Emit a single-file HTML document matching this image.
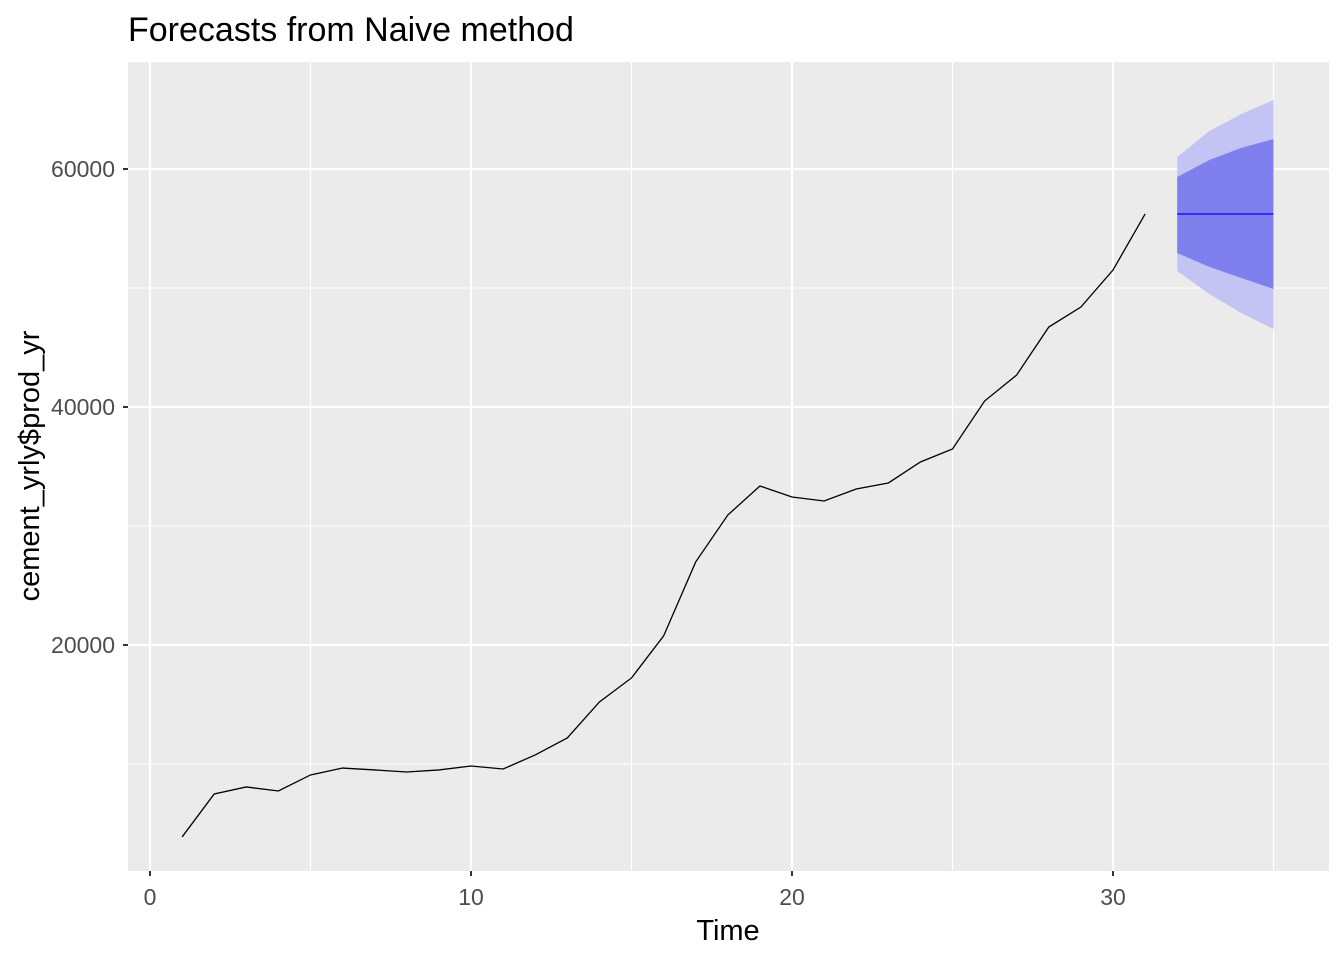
<!DOCTYPE html>
<html><head><meta charset="utf-8"><style>
body{margin:0;background:#fff;font-family:"Liberation Sans",sans-serif}
</style></head><body>
<svg id="chart" width="1344" height="960" xmlns="http://www.w3.org/2000/svg" font-family="Liberation Sans, sans-serif">
<text x="128" y="41" font-size="34" fill="#000">Forecasts from Naive method</text>
<rect x="128" y="62" width="1201" height="809" fill="#ebebeb"/>
<g id="grid"></g>
<g id="marks"></g>
<g id="axes"></g>
<text x="728" y="940" font-size="29" text-anchor="middle" fill="#000">Time</text>
<text transform="translate(39,466) rotate(-90)" font-size="29" text-anchor="middle" fill="#000">cement_yrly$prod_yr</text>
</svg>
<script>
const times=[1,2,3,4,5,6,7,8,9,10,11,12,13,14,15,16,17,18,19,20,21,22,23,24,25,26,27,28,29,30,31];
const values=[3870,7480,8070,7730,9080,9660,9500,9330,9500,9830,9580,10760,12190,15210,17230,20760,26980,30920,33360,32440,32100,33110,33610,35380,36470,40500,42690,46720,48400,51510,56220];
const fcTimes=[32,33,34,35];
const fcMean=[56220,56220,56220,56220];
const lo80=[52940,51770,50840,49920];
const hi80=[59330,60760,61770,62520];
const lo95=[51430,49500,47900,46560];
const hi95=[61010,63190,64620,65800];
const xTicks=[0,10,20,30];
const xMinor=[5,15,25,35];
const yTicks=[20000,40000,60000];
const yMinor=[10000,30000,50000];
const NS="http://www.w3.org/2000/svg";
const X=t=>150+t*32.1;
const Y=v=>645-(v-20000)*0.0119;
function mk(tag,attrs,parent){const e=document.createElementNS(NS,tag);for(const k in attrs)e.setAttribute(k,attrs[k]);document.getElementById(parent).appendChild(e);return e;}
yMinor.forEach(v=>{const l=mk('line',{x1:128,x2:1329,y1:Y(v),y2:Y(v),stroke:'#fff','stroke-width':1.1},'grid');

});
xMinor.forEach(t=>{const l=mk('line',{x1:X(t),x2:X(t),y1:62,y2:871,stroke:'#fff','stroke-width':1.1},'grid');

});
yTicks.forEach(v=>{const l=mk('line',{x1:128,x2:1329,y1:Y(v),y2:Y(v),stroke:'#fff','stroke-width':2.2},'grid');


const tk=mk('line',{x1:123,x2:128,y1:Y(v),y2:Y(v),stroke:'#333','stroke-width':2},'axes');


const tx=mk('text',{x:115,y:Y(v)+8,'font-size':23,'text-anchor':'end',fill:'#4d4d4d'},'axes');tx.textContent=v;

});
xTicks.forEach(t=>{const l=mk('line',{x1:X(t),x2:X(t),y1:62,y2:871,stroke:'#fff','stroke-width':2.2},'grid');


const tk=mk('line',{x1:X(t),x2:X(t),y1:871,y2:876,stroke:'#333','stroke-width':2},'axes');


const tx=mk('text',{x:X(t),y:905,'font-size':23,'text-anchor':'middle',fill:'#4d4d4d'},'axes');tx.textContent=t;

});
function band(lo,hi){return fcTimes.map((t,i)=>X(t)+','+Y(hi[i])).concat(fcTimes.map((t,i)=>X(t)+','+Y(lo[i])).reverse()).join(' ');}
const b95=mk('polygon',{points:band(lo95,hi95),fill:'#c4c4f4'},'marks');


const b80=mk('polygon',{points:band(lo80,hi80),fill:'#7f7fee'},'marks');


const hist=mk('polyline',{points:times.map((t,i)=>X(t)+','+Y(values[i])).join(' '),fill:'none',stroke:'#000','stroke-width':1.3},'marks');


const fm=mk('polyline',{points:fcTimes.map((t,i)=>X(t)+','+Y(fcMean[i])).join(' '),fill:'none',stroke:'#0000ff','stroke-width':1.3},'marks');


</script>
</body></html>
